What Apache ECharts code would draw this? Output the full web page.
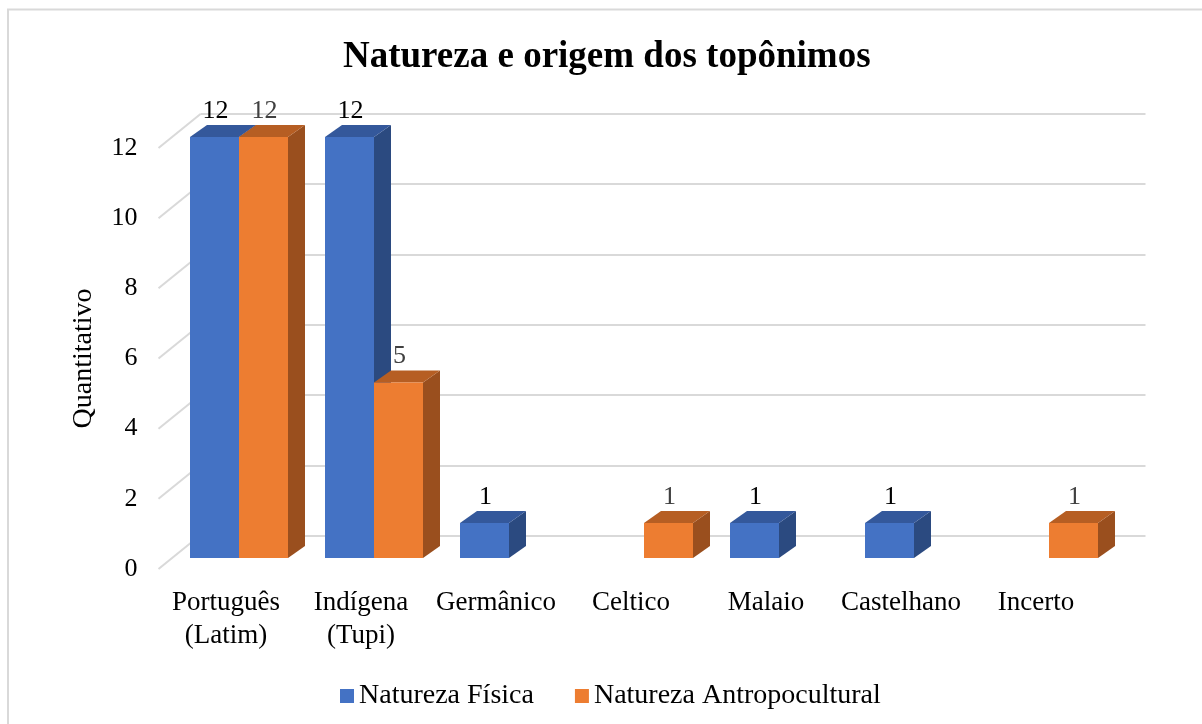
<!DOCTYPE html>
<html><head><meta charset="utf-8">
<script src="https://cdn.jsdelivr.net/npm/echarts@6/dist/echarts.min.js"></script>
<style>html,body{margin:0;padding:0;background:#fff}#c{width:1202px;height:724px}</style>
</head><body><div id="c"></div>
<script>
// ---- data ----
const categories = ['Português\n(Latim)', 'Indígena\n(Tupi)', 'Germânico', 'Celtico', 'Malaio', 'Castelhano', 'Incerto'];
const fisica = [12, 12, 1, null, 1, 1, null];
const antropocultural = [12, 5, null, 1, null, null, 1];
const yTicks = [0, 2, 4, 6, 8, 10, 12];
const seriesNames = ['Natureza Física', 'Natureza Antropocultural'];
const chartTitle = 'Natureza e origem dos topônimos';
const yName = 'Quantitativo';

// ---- style ----
const FONT = '"Liberation Serif","Times New Roman",serif';
const FRONT = [13, -11], BACK = [30, -23], WALL = [42, -34];
const BAR_FRAC = 49 / 135;
const BLUE = ['#4472C4', '#34589B', '#2B4A80'];
const ORANGE = ['#ED7D31', '#B65E23', '#9A4F1E'];

function toData(arr) {
  const out = [];
  arr.forEach((v, i) => { if (v != null) out.push([i, v]); });
  return out;
}

function barRender(side, colors, labelColor) {
  return function (params, api) {
    const v = api.value(1);
    const c = api.coord([api.value(0), 0]);
    const t = api.coord([api.value(0), v]);
    const bw = api.size([1, 0])[0] * BAR_FRAC;
    const x0 = side === 0 ? c[0] - bw : c[0];
    const x1 = x0 + bw;
    const yb = c[1], yt = t[1];
    const f = FRONT, b = BACK;
    const front = [[x0 + f[0], yt + f[1]], [x1 + f[0], yt + f[1]], [x1 + f[0], yb + f[1]], [x0 + f[0], yb + f[1]]];
    const top = [[x0 + f[0], yt + f[1]], [x0 + b[0], yt + b[1]], [x1 + b[0], yt + b[1]], [x1 + f[0], yt + f[1]]];
    const sideFace = [[x1 + f[0], yt + f[1]], [x1 + b[0], yt + b[1]], [x1 + b[0], yb + b[1]], [x1 + f[0], yb + f[1]]];
    return {
      type: 'group', children: [
        { type: 'polygon', shape: { points: sideFace }, style: { fill: colors[2] } },
        { type: 'polygon', shape: { points: top }, style: { fill: colors[1] } },
        { type: 'polygon', shape: { points: front }, style: { fill: colors[0] } },
        { type: 'text', style: { text: String(v), x: (x0 + x1) / 2 + f[0] + 1, y: yt + f[1] - 26, align: 'center', verticalAlign: 'middle', fill: labelColor, fontSize: 26, fontFamily: FONT } }
      ]
    };
  };
}

const chart = echarts.init(document.getElementById('c'), null, { renderer: 'canvas' });
chart.setOption({
  backgroundColor: '#fff',
  animation: false,
  title: {
    text: chartTitle, left: 338, top: 34,
    textStyle: { fontFamily: FONT, fontSize: 37, fontWeight: 'bold', color: '#000' }
  },
  legend: {
    data: seriesNames, left: 335, top: 677, icon: 'rect', itemWidth: 14, itemHeight: 14, itemGap: 41,
    textStyle: { fontFamily: FONT, fontSize: 28, color: '#000' }
  },
  graphic: [{
    type: 'rect', shape: { x: 8, y: 9.5, width: 1400, height: 900 },
    style: { fill: 'none', stroke: '#d9d9d9', lineWidth: 2 }, silent: true, z: -10
  }],
  grid: [
    { left: 158.5, right: 98.5, top: 148, bottom: 155 },
    { left: 200.5, right: 56.5, top: 113.5, bottom: 188 }
  ],
  xAxis: [
    {
      type: 'category', data: categories, gridIndex: 0,
      axisLine: { show: false }, axisTick: { show: false },
      axisLabel: { interval: 0, fontFamily: FONT, fontSize: 27, lineHeight: 33, color: '#000', margin: 17 }
    },
    { type: 'category', data: categories, gridIndex: 1, show: false }
  ],
  yAxis: [
    {
      type: 'value', gridIndex: 0, min: 0, max: 12, interval: 2,
      axisLine: { show: false }, axisTick: { show: false }, splitLine: { show: false },
      axisLabel: { fontFamily: FONT, fontSize: 26, color: '#000', margin: 21 },
      name: yName, nameLocation: 'middle', nameRotate: 90, nameGap: 61,
      nameTextStyle: { fontFamily: FONT, fontSize: 28, color: '#000' }
    },
    {
      type: 'value', gridIndex: 1, min: 0, max: 12, interval: 2,
      axisLine: { show: false }, axisTick: { show: false }, axisLabel: { show: false },
      splitLine: { show: true, lineStyle: { color: '#d9d9d9', width: 2 } }
    }
  ],
  series: [
    {
      type: 'custom', name: 'sidewall', xAxisIndex: 0, yAxisIndex: 0, silent: true, z: 1,
      data: yTicks.map(v => [0, v]),
      renderItem: function (params, api) {
        const p = api.coord([0, api.value(1)]);
        const x = params.coordSys.x;
        return { type: 'line', shape: { x1: x, y1: p[1], x2: x + WALL[0], y2: p[1] + WALL[1] }, style: { stroke: '#d9d9d9', lineWidth: 2 } };
      }
    },
    {
      type: 'custom', name: seriesNames[0], xAxisIndex: 0, yAxisIndex: 0, z: 2,
      itemStyle: { color: BLUE[0] }, encode: { x: 0, y: 1 },
      data: toData(fisica), renderItem: barRender(0, BLUE, '#000')
    },
    {
      type: 'custom', name: seriesNames[1], xAxisIndex: 0, yAxisIndex: 0, z: 3,
      itemStyle: { color: ORANGE[0] }, encode: { x: 0, y: 1 },
      data: toData(antropocultural), renderItem: barRender(1, ORANGE, '#404040')
    }
  ]
});
</script>
</body></html>
